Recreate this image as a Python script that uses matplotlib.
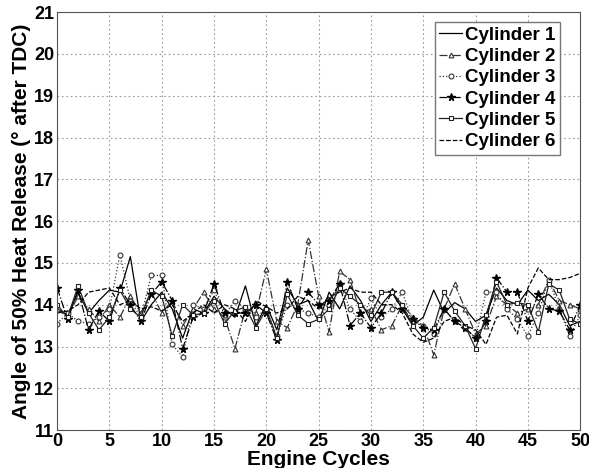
import numpy as np
import matplotlib
matplotlib.use("Agg")
import matplotlib.pyplot as plt

plt.rcParams['font.family'] = ['Liberation Sans', 'DejaVu Sans']
plt.rcParams['font.weight'] = 'bold'

cycles = np.arange(0, 51)

# angle of 50% heat release per cylinder
cyl1 = [13.9, 13.75, 14.3, 13.8, 14.1, 14.35, 14.3, 15.15, 13.6, 14.0,
        14.3, 13.9, 13.2, 13.9, 13.8, 14.2, 13.9, 13.7, 14.45, 13.5,
        14.0, 13.4, 14.4, 14.0, 14.1, 13.6, 14.3, 13.9, 14.45, 14.1,
        13.6, 14.0, 14.3, 13.9, 13.5, 13.7, 14.35, 13.8, 14.05, 13.9,
        13.6, 13.75, 14.4, 14.1, 14.0, 14.35, 14.1, 14.25, 14.0, 13.5, 13.6]
cyl2 = [13.9, 13.7, 14.2, 13.9, 13.6, 14.0, 13.7, 14.2, 13.8, 14.3,
        13.8, 14.1, 13.5, 13.9, 14.3, 13.9, 13.7, 12.95, 13.9, 13.8,
        14.85, 13.6, 13.45, 14.0, 15.55, 14.2, 13.35, 14.8, 14.6, 13.8,
        13.9, 13.4, 13.5, 14.0, 13.7, 13.5, 12.8, 13.9, 14.5, 13.9,
        13.3, 13.5, 14.2, 14.0, 13.8, 13.9, 14.0, 14.6, 14.1, 14.0, 13.9]
cyl3 = [13.55, 13.8, 13.6, 13.55, 13.7, 13.9, 15.2, 14.1, 13.7, 14.7,
        14.7, 13.05, 12.75, 14.0, 13.9, 14.35, 13.75, 14.1, 13.9, 13.7,
        13.9, 13.25, 14.0, 13.9, 13.8, 13.7, 14.0, 14.5, 13.9, 13.6,
        14.15, 13.7, 13.9, 14.3, 13.6, 13.5, 13.3, 13.9, 13.6, 13.45,
        13.2, 14.3, 14.3, 13.9, 13.65, 13.25, 13.8, 14.6, 13.9, 13.25, 13.75]
cyl4 = [14.4, 13.65, 14.35, 13.4, 13.85, 13.6, 14.4, 14.0, 13.6, 14.25,
        14.55, 14.1, 12.95, 13.7, 13.8, 14.5, 13.8, 13.8, 13.8, 14.0,
        13.8, 13.15, 14.55, 13.9, 14.3, 14.0, 14.1, 14.5, 13.5, 13.8,
        13.45, 13.8, 14.3, 13.9, 13.65, 13.45, 13.4, 13.9, 13.6, 13.45,
        13.2, 13.6, 14.65, 14.3, 14.3, 13.6, 14.25, 13.9, 13.85, 13.4, 14.0]
cyl5 = [14.0, 13.7, 14.45, 13.8, 13.4, 13.7, 14.35, 13.9, 13.7, 14.35,
        14.2, 13.25, 14.0, 13.75, 13.8, 14.1, 13.55, 13.85, 13.95, 13.45,
        13.9, 13.2, 14.25, 13.75, 13.55, 13.65, 13.9, 14.4, 14.2, 14.0,
        13.75, 14.3, 14.3, 14.0, 13.5, 13.2, 13.45, 14.3, 13.85, 13.5,
        12.95, 13.75, 14.55, 14.0, 14.05, 14.0, 13.35, 14.5, 14.35, 13.65, 13.55]
cyl6 = [13.8, 13.85, 14.0, 14.3, 14.35, 14.4, 14.0, 14.1, 13.9, 13.95,
        13.85, 14.0, 13.6, 13.8, 14.0, 13.8, 14.0, 13.9, 13.6, 14.1,
        13.95, 13.8, 13.9, 14.2, 14.1, 13.9, 14.2, 14.3, 14.4, 14.3,
        14.3, 14.0, 14.0, 13.8, 13.3, 13.1, 13.2, 13.6, 13.7, 13.5,
        13.4, 13.05, 13.7, 13.75, 13.3, 14.4, 14.88, 14.6, 14.6, 14.65, 14.75]

fig = plt.figure(figsize=(5.89, 4.68), dpi=100)
ax = fig.add_axes([0.097, 0.081, 0.888, 0.893])

lw = 0.9
ax.plot(cycles, cyl1, '-', color='black', lw=lw, label='Cylinder 1')
ax.plot(cycles, cyl2, '-.', color='#333333', lw=lw, marker='^', ms=3.5,
        mfc='white', mec='#333333', mew=0.8, label='Cylinder 2')
ax.plot(cycles, cyl3, ':', color='#333333', lw=lw, marker='o', ms=3.5,
        mfc='white', mec='#333333', mew=0.8, label='Cylinder 3')
ax.plot(cycles, cyl4, '-.', color='black', lw=lw, marker='*', ms=5.5,
        mfc='black', mec='black', label='Cylinder 4')
ax.plot(cycles, cyl5, '-', color='#222222', lw=lw, marker='s', ms=3.5,
        mfc='white', mec='#222222', mew=0.8, label='Cylinder 5')
ax.plot(cycles, cyl6, '--', color='black', lw=lw, label='Cylinder 6')

ax.set_xlim(0, 50)
ax.set_ylim(11, 21)
ax.set_xticks(np.arange(0, 51, 5))
ax.set_yticks(np.arange(11, 22, 1))
ax.tick_params(labelsize=13, direction='in', length=0, pad=2)
for t in ax.get_xticklabels() + ax.get_yticklabels():
    t.set_fontweight('bold')
ax.grid(True, color='#999999', linestyle=(0, (1.5, 2.5)), lw=0.8)
for s in ax.spines.values():
    s.set_color('#555555')

ax.set_xlabel('Engine Cycles', fontsize=15, fontweight='bold', labelpad=0)
ax.set_ylabel('Angle of 50% Heat Release (° after TDC)', fontsize=15,
              fontweight='bold', labelpad=2)

leg = ax.legend(loc='upper right', bbox_to_anchor=(0.968, 0.985),
                prop={'size': 13.5, 'weight': 'bold'}, fancybox=False,
                framealpha=1, edgecolor='#777777', handlelength=1.2,
                handletextpad=0.15, borderpad=0.25, labelspacing=0.22,
                borderaxespad=0.2)

fig.savefig('out.png', dpi=100)
